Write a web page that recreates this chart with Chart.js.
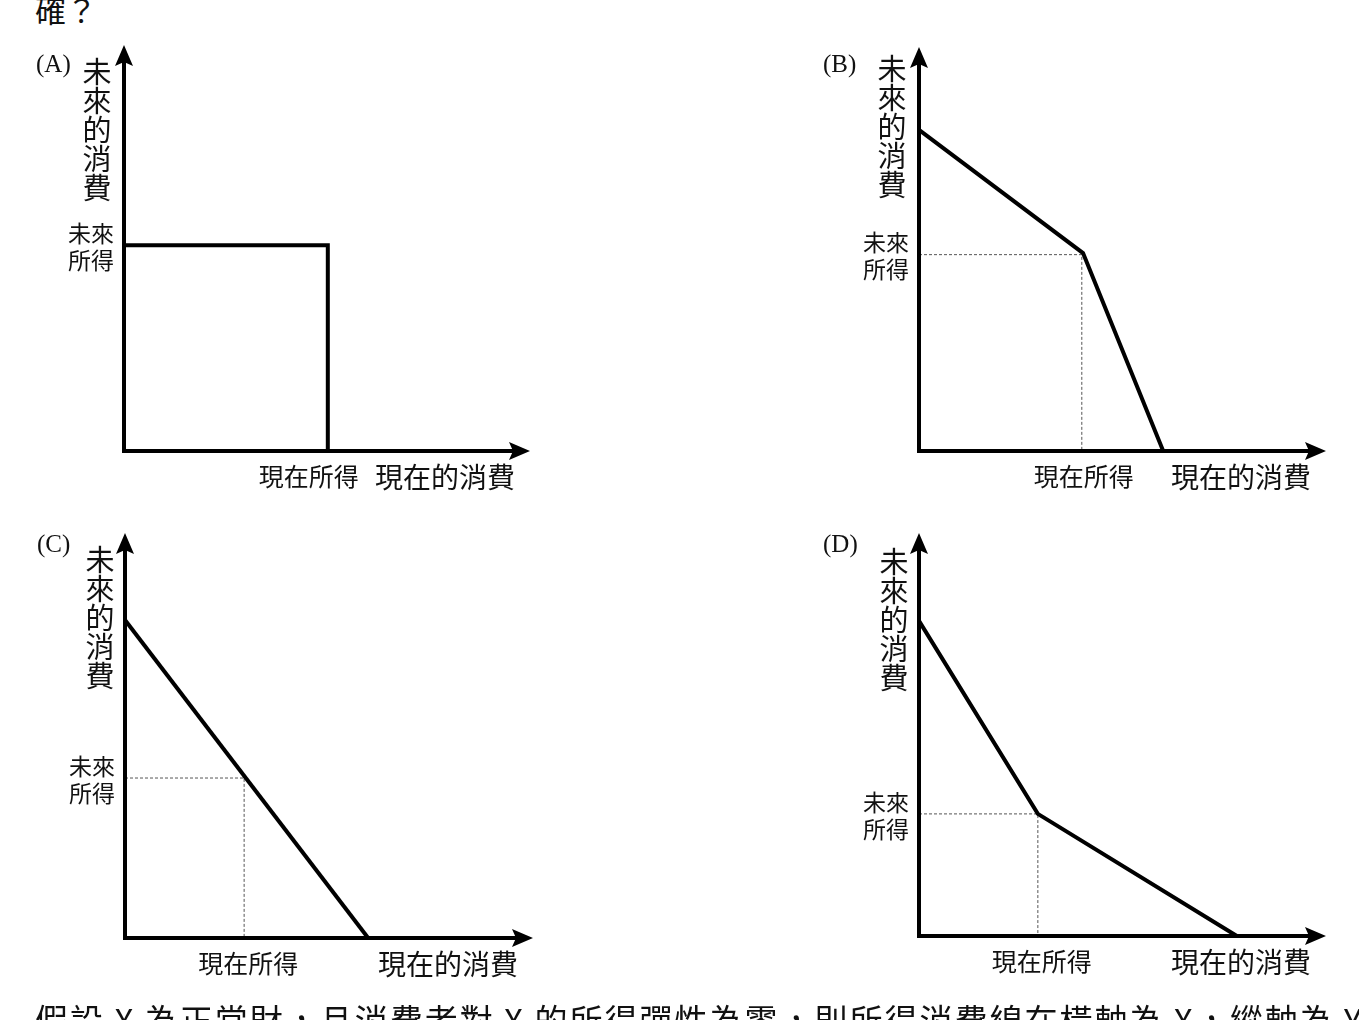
<!DOCTYPE html>
<html lang="zh-Hant">
<head>
<meta charset="utf-8">
<title>跨期消費選擇</title>
<script src="https://cdn.jsdelivr.net/npm/chart.js@4.4.1/dist/chart.umd.min.js"></script>
<style>
  html, body { margin: 0; padding: 0; background: #fff; }
  #page { position: relative; width: 1359px; height: 1020px; overflow: hidden; background: #fff; }
  #page canvas { position: absolute; }
  .q { position: absolute; left: 35px; font-family: "Noto Sans CJK TC", sans-serif; font-size: 31px; line-height: 1; color: #111; white-space: nowrap; }
  #qBottom { font-size: 33px; letter-spacing: 2px; }
</style>
</head>
<body>
<div id="page">
  <div class="q" id="qTop" style="top:-7px">確？</div>
  <canvas id="panelA" width="680" height="510" style="left:0;top:0"></canvas>
  <canvas id="panelB" width="679" height="510" style="left:680px;top:0"></canvas>
  <canvas id="panelC" width="680" height="510" style="left:0;top:510px"></canvas>
  <canvas id="panelD" width="679" height="510" style="left:680px;top:510px"></canvas>
  <div class="q" id="qBottom" style="top:1003px">假設 X 為正常財，且消費者對 X 的所得彈性為零，則所得消費線在橫軸為 X，縱軸為 Y</div>
</div>
<script>
// values are in axis units: 0 at the origin, 100 at the arrow tip
const panelLetters = ['(A)', '(B)', '(C)', '(D)'];

const lineA_x = [0, 50.2, 50.2];
const lineA_y = [50.7, 50.7, 0];
const lineB_x = [0, 40.3, 60];
const lineB_y = [79.5, 49, 0];
const lineC_x = [0, 59.6];
const lineC_y = [78.5, 0];
const lineD_x = [0, 29.2, 78.1];
const lineD_y = [78.2, 30.3, 0];

// 現在所得 / 未來所得 position in each panel
const incomeX = [50.2, 40, 29.2, 29.2];
const incomeY = [50.7, 48.6, 39.5, 30.3];
const showGuides = [false, true, true, true];

const yTitle = '未來的消費';
const xTitle = '現在的消費';
const futureIncome = ['未來', '所得'];
const currentIncome = '現在所得';

const CJK = '"Noto Sans CJK TC", "Noto Sans CJK SC", sans-serif';

const econPlugin = {
  id: 'econ',
  afterDatasetsDraw(chart, args, opts) {
    const { ctx, chartArea } = chart;
    const { left, right, top, bottom } = chartArea;
    const xs = chart.scales.x, ys = chart.scales.y;
    ctx.save();

    // axes
    ctx.strokeStyle = '#000';
    ctx.fillStyle = '#000';
    ctx.lineWidth = 4;
    ctx.lineCap = 'butt';
    ctx.beginPath();
    ctx.moveTo(left, bottom + 2);
    ctx.lineTo(left, top + 14);
    ctx.moveTo(left - 2, bottom);
    ctx.lineTo(right - 14, bottom);
    ctx.stroke();

    // arrow heads
    ctx.beginPath();
    ctx.moveTo(left, top);
    ctx.lineTo(left + 9, top + 21);
    ctx.lineTo(left, top + 17);
    ctx.lineTo(left - 9, top + 21);
    ctx.closePath();
    ctx.fill();
    ctx.beginPath();
    ctx.moveTo(right, bottom);
    ctx.lineTo(right - 21, bottom - 9);
    ctx.lineTo(right - 17, bottom);
    ctx.lineTo(right - 21, bottom + 9);
    ctx.closePath();
    ctx.fill();

    ctx.fillStyle = '#111';
    ctx.textBaseline = 'middle';

    // panel letter
    ctx.font = '25px "Liberation Serif", serif';
    ctx.textAlign = 'left';
    ctx.fillText(opts.letter, left + opts.letterDx, top + opts.letterDy);

    // vertical y title
    ctx.font = '29px ' + CJK;
    ctx.textAlign = 'center';
    [...yTitle].forEach((ch, i) => {
      ctx.fillText(ch, left + opts.titleDx, top + opts.titleDy + i * 29);
    });

    // 未來所得
    const py = ys.getPixelForValue(opts.iy);
    ctx.font = '23px ' + CJK;
    ctx.textAlign = 'right';
    ctx.fillText(futureIncome[0], left - 10, py - 12);
    ctx.fillText(futureIncome[1], left - 10, py + 15);

    // 現在所得
    const px = xs.getPixelForValue(opts.ix);
    ctx.font = '25px ' + CJK;
    ctx.textAlign = 'center';
    ctx.fillText(currentIncome, px + opts.incomeDx, bottom + 25);

    // x title
    ctx.font = '28px ' + CJK;
    ctx.textAlign = 'right';
    ctx.fillText(xTitle, right - 15, bottom + 26);

    ctx.restore();
  }
};

function makePanel(id, i, xsVals, ysVals, extra) {
  const datasets = [{
    data: xsVals.map((x, k) => ({ x, y: ysVals[k] })),
    borderColor: '#000',
    borderWidth: 4,
    borderJoinStyle: 'miter',
    showLine: true,
    pointRadius: 0,
    clip: false
  }];
  if (showGuides[i]) {
    datasets.push({
      data: [{ x: 0, y: incomeY[i] }, { x: incomeX[i], y: incomeY[i] }, { x: incomeX[i], y: 0 }],
      borderColor: '#555',
      borderWidth: 1,
      borderDash: [3, 2],
      showLine: true,
      pointRadius: 0,
      clip: false
    });
  }
  return new Chart(document.getElementById(id), {
    type: 'scatter',
    data: { datasets },
    options: {
      responsive: false,
      animation: false,
      layout: { padding: extra.pad },
      scales: {
        x: { type: 'linear', min: 0, max: 100, display: false },
        y: { type: 'linear', min: 0, max: 100, display: false }
      },
      plugins: {
        legend: { display: false },
        tooltip: { enabled: false },
        econ: Object.assign({ letter: panelLetters[i], ix: incomeX[i], iy: incomeY[i] }, extra)
      }
    },
    plugins: [econPlugin]
  });
}

makePanel('panelA', 0, lineA_x, lineA_y, {
  pad: { left: 124, top: 45, right: 150, bottom: 59 },
  letterDx: -88, letterDy: 20, titleDx: -27, titleDy: 27, incomeDx: -19
});
makePanel('panelB', 1, lineB_x, lineB_y, {
  pad: { left: 239, top: 47, right: 33, bottom: 59 },
  letterDx: -96, letterDy: 18, titleDx: -27, titleDy: 22, incomeDx: 2
});
makePanel('panelC', 2, lineC_x, lineC_y, {
  pad: { left: 125, top: 23, right: 147, bottom: 82 },
  letterDx: -88, letterDy: 12, titleDx: -25, titleDy: 27, incomeDx: 4
});
makePanel('panelD', 3, lineD_x, lineD_y, {
  pad: { left: 239, top: 23, right: 33, bottom: 84 },
  letterDx: -96, letterDy: 12, titleDx: -25, titleDy: 29, incomeDx: 4
});
</script>
</body>
</html>
